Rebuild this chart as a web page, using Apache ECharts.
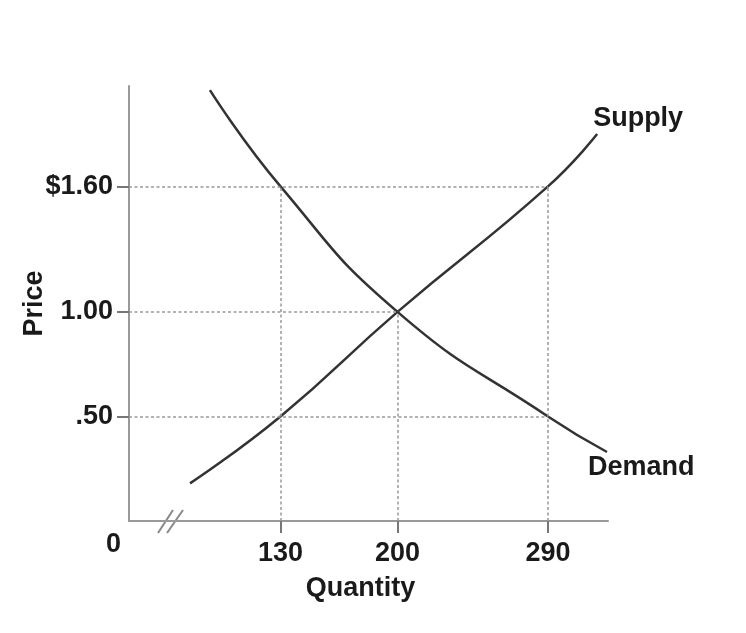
<!DOCTYPE html>
<html>
<head>
<meta charset="utf-8">
<title>Supply and Demand</title>
<script src="https://cdn.jsdelivr.net/npm/echarts@6.0.0/dist/echarts.min.js"></script>
<style>
  html, body { margin: 0; padding: 0; background: #fff; }
  #chart { width: 746px; height: 633px; }
</style>
</head>
<body>
<div id="chart"></div>
<script>
// curve points (quantity, price)
const demandQ = [87.8, 130, 200, 290, 325.3];
const demandP = [2.06, 1.60, 1.00, 0.50, 0.33];
const supplyQ = [75.9, 130, 200, 290, 319.4];
const supplyP = [0.18, 0.50, 1.00, 1.60, 1.85];

// tick values and labels
const quantityTicks = [130, 200, 290];
const priceTicks = [0.5, 1.0, 1.6];
const priceLabels = ['.50', '1.00', '$1.60'];

// dotted guides: [price, quantity reached] and [quantity, price reached]
const hGuides = [[1.60, 290], [1.00, 200], [0.50, 290]];
const vGuides = [[130, 1.60], [200, 1.00], [290, 1.60]];

const xMin = 39.4, xMax = 325.9;
const font = 'Liberation Sans, Arial, sans-serif';
const ink = '#1a1a1a';

function pairs(qs, ps) {
  return qs.map(function (q, i) { return [q, ps[i]]; });
}

const guideLines = [];
hGuides.forEach(function (g) {
  guideLines.push([{ coord: [xMin, g[0]] }, { coord: [g[1], g[0]] }]);
});
vGuides.forEach(function (g) {
  guideLines.push([{ coord: [g[0], 0] }, { coord: [g[0], g[1]] }]);
});

var chart = echarts.init(document.getElementById('chart'));

var option = {
  animation: false,
  grid: { left: 129, right: 138, top: 86, bottom: 112 },
  textStyle: { fontFamily: font },
  xAxis: {
    type: 'value',
    min: xMin,
    max: xMax,
    name: 'Quantity',
    nameLocation: 'middle',
    nameGap: 54,
    nameMoveOverlap: false,
    nameTextStyle: { fontFamily: font, fontWeight: 'bold', fontSize: 27, color: ink, padding: [0, 16, 0, 0] },
    splitLine: { show: false },
    axisLine: { lineStyle: { color: '#999', width: 2 } },
    axisTick: { customValues: quantityTicks, length: 12, lineStyle: { color: '#777', width: 2 } },
    axisLabel: {
      customValues: quantityTicks,
      margin: 19,
      fontFamily: font, fontWeight: 'bold', fontSize: 27, color: ink
    }
  },
  yAxis: {
    type: 'value',
    min: 0,
    max: 2.08,
    name: 'Price',
    nameLocation: 'middle',
    nameRotate: 90,
    nameGap: 81,
    nameMoveOverlap: false,
    nameTextStyle: { fontFamily: font, fontWeight: 'bold', fontSize: 27, color: ink },
    splitLine: { show: false },
    axisLine: { lineStyle: { color: '#999', width: 2 } },
    axisTick: { customValues: priceTicks, length: 12, lineStyle: { color: '#777', width: 2 } },
    axisLabel: {
      customValues: priceTicks,
      margin: 16,
      fontFamily: font, fontWeight: 'bold', fontSize: 27, color: ink,
      formatter: function (v) {
        var i = priceTicks.indexOf(v);
        return i >= 0 ? priceLabels[i] : '';
      }
    }
  },
  series: [
    {
      name: 'Demand',
      type: 'line',
      data: pairs(demandQ, demandP),
      smooth: 0.5,
      symbol: 'none',
      z: 3,
      lineStyle: { color: '#333', width: 2.5 },
      endLabel: {
        show: true,
        formatter: 'Demand',
        offset: [-27, 16],
        fontFamily: font, fontWeight: 'bold', fontSize: 27, color: ink
      }
    },
    {
      name: 'Supply',
      type: 'line',
      data: pairs(supplyQ, supplyP),
      smooth: 0.5,
      symbol: 'none',
      z: 3,
      lineStyle: { color: '#333', width: 2.5 },
      endLabel: {
        show: true,
        formatter: 'Supply',
        offset: [-12, -16],
        fontFamily: font, fontWeight: 'bold', fontSize: 27, color: ink
      },
      markLine: {
        silent: true,
        symbol: 'none',
        label: { show: false },
        lineStyle: { color: '#999', width: 1.5, type: [3, 2.5] },
        data: guideLines
      }
    }
  ],
  graphic: [
    {
      type: 'text',
      left: 106,
      top: 531,
      style: { text: '0', fontFamily: font, fontWeight: 'bold', fontSize: 27, fill: ink }
    },
    {
      type: 'line',
      shape: { x1: 158, y1: 533, x2: 173, y2: 510 },
      style: { stroke: '#888', lineWidth: 2 }
    },
    {
      type: 'line',
      shape: { x1: 167, y1: 533, x2: 183, y2: 510 },
      style: { stroke: '#888', lineWidth: 2 }
    }
  ]
};

chart.setOption(option);
</script>
</body>
</html>
